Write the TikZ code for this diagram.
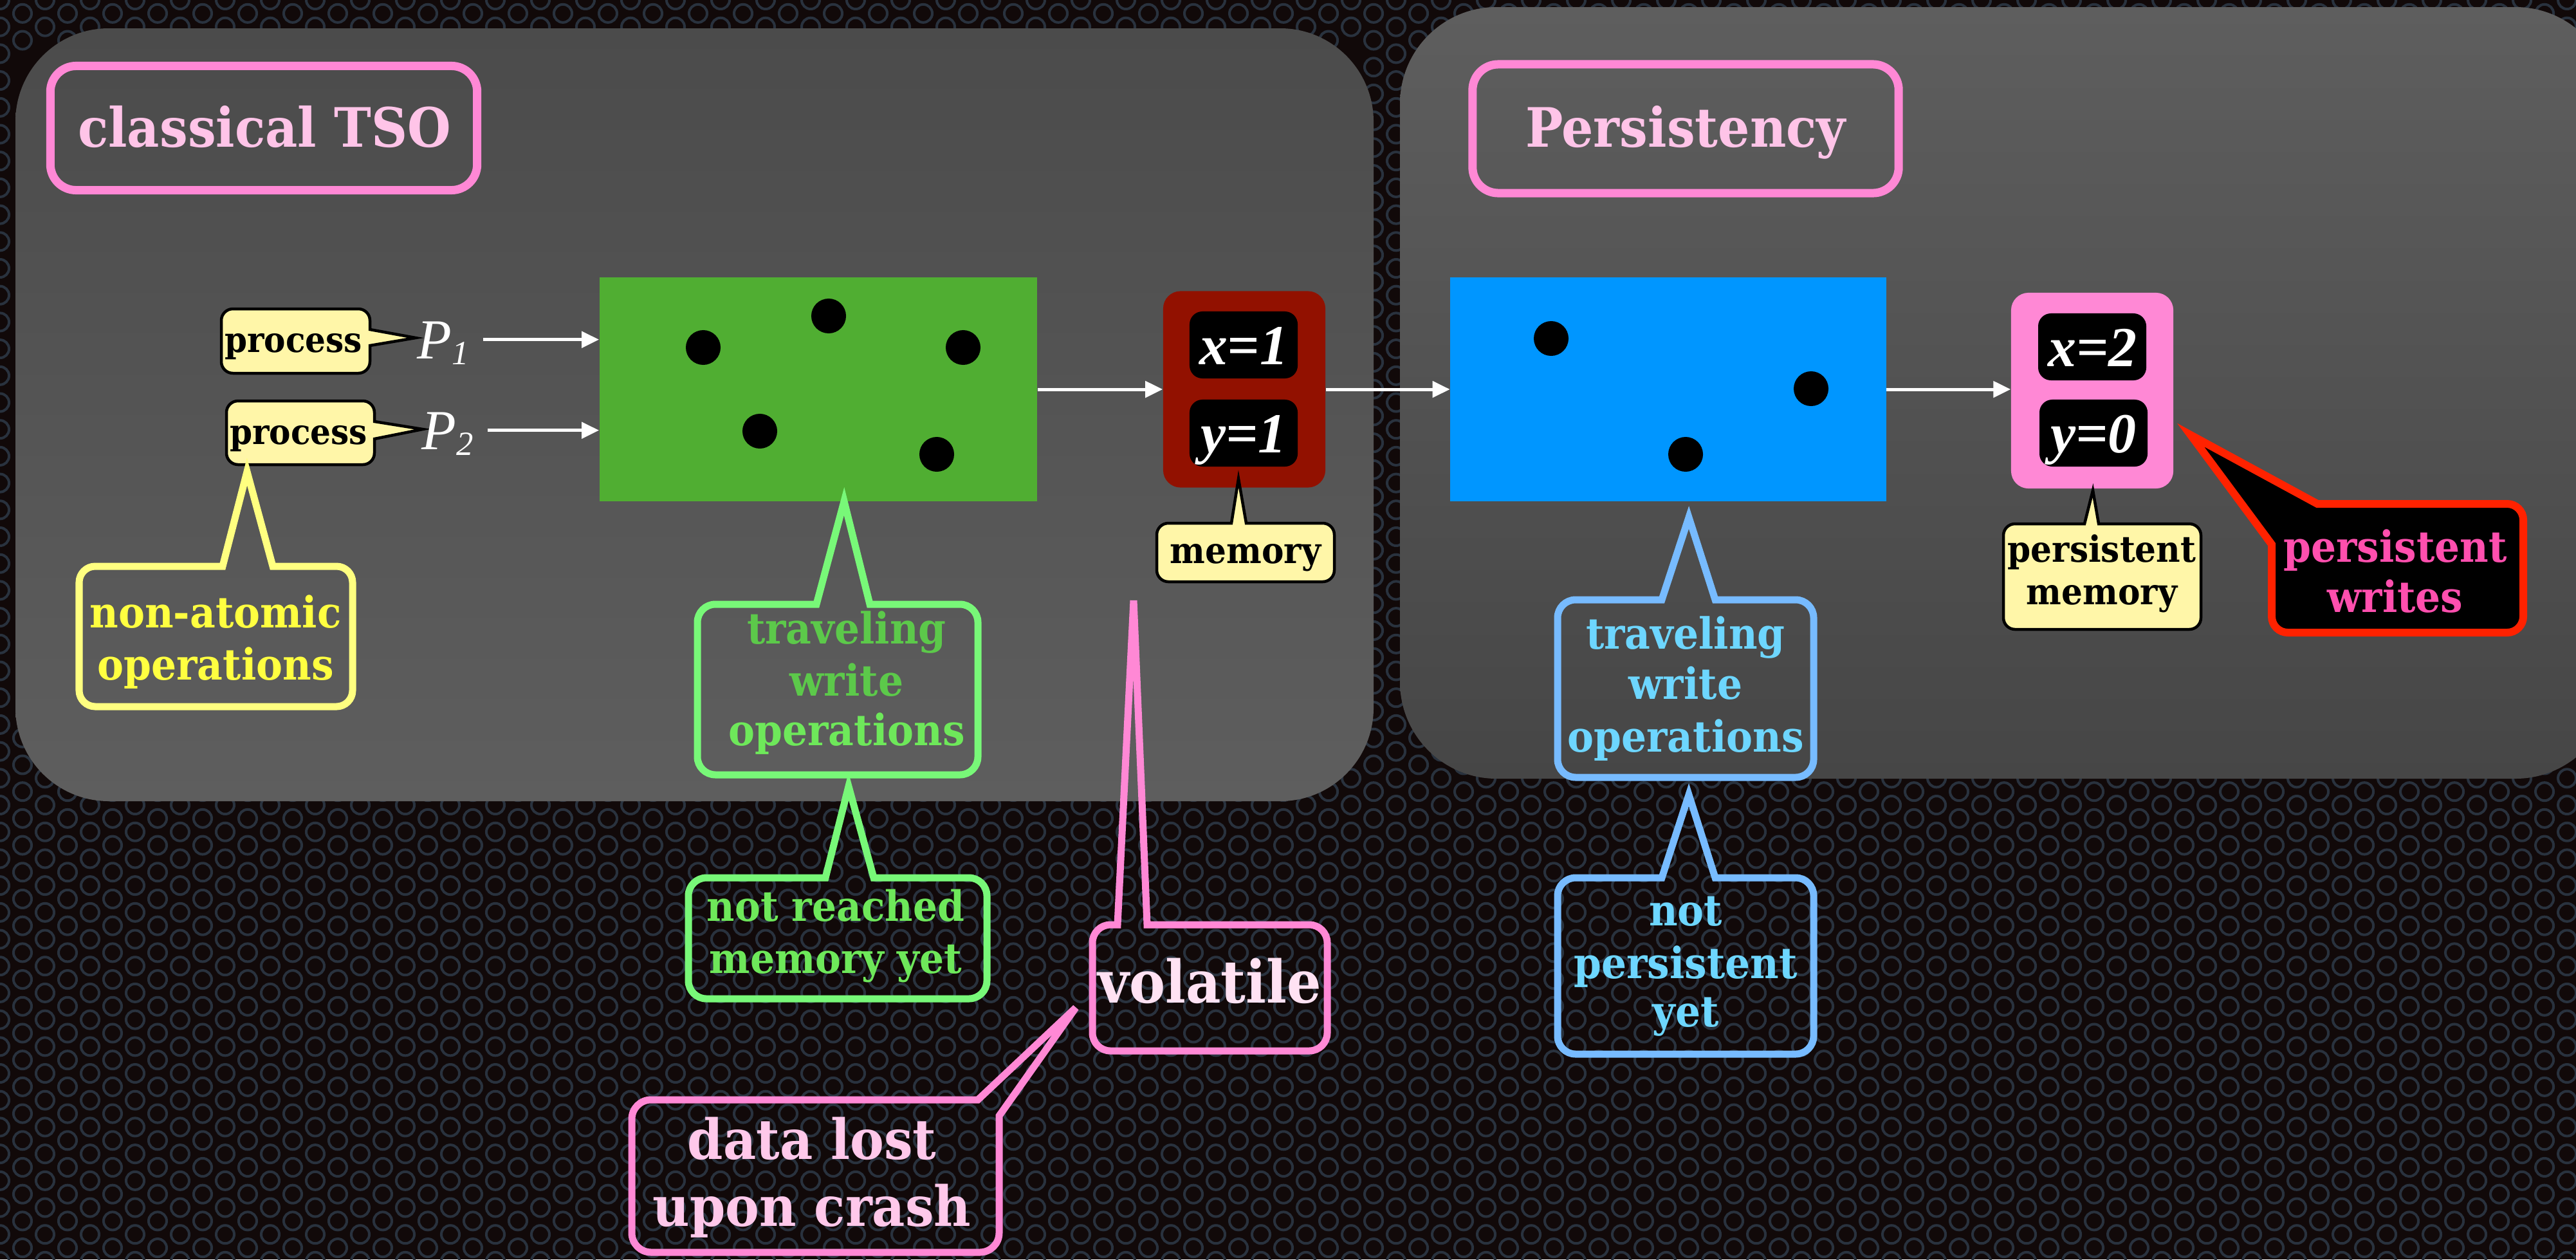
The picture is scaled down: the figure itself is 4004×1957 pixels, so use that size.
\documentclass[tikz,border=0pt]{standalone}
\usepackage{fontspec}
\usetikzlibrary{arrows.meta}
\newfontfamily\tw[FakeStretch=0.92]{DejaVu Serif}
\newfontfamily\mf{Liberation Serif}
\newcommand\fsz[1]{\fontsize{#1}{#1}\selectfont}
\definecolor{bgc}{HTML}{110909}
\definecolor{ringc}{HTML}{29323E}
\definecolor{pAtop}{HTML}{4B4B4B}
\definecolor{pAbot}{HTML}{5E5E5E}
\definecolor{pBtop}{HTML}{5E5E5E}
\definecolor{pBbot}{HTML}{464646}
\definecolor{pinkc}{HTML}{FF88D5}
\definecolor{titlec}{HTML}{FFC4E8}
\definecolor{procfill}{HTML}{FFF6A8}
\definecolor{yelc}{HTML}{FFFF80}
\definecolor{yeltext}{HTML}{FFFF40}
\definecolor{grbox}{HTML}{50AE32}
\definecolor{grline}{HTML}{78F878}
\definecolor{grtext}{HTML}{5CC94A}
\definecolor{grtextb}{HTML}{6EE85A}
\definecolor{memred}{HTML}{921100}
\definecolor{blbox}{HTML}{0096FF}
\definecolor{blline}{HTML}{77BBFF}
\definecolor{bltext}{HTML}{6DD6FF}
\definecolor{redc}{HTML}{FF2200}
\definecolor{wtext}{HTML}{FF4FAE}
\definecolor{voltext}{HTML}{FFE2F3}
\definecolor{losttext}{HTML}{FFC8EA}
\tikzset{
  lab/.style={inner sep=0pt, anchor=base, font={\tw\bfseries\fsz{#1}}},
  mth/.style={inner sep=0pt, text=white, font={\mf\itshape\fsz{25}}},
  arr/.style={draw=white, line width=0.05cm, -{Triangle[length=0.27cm,width=0.25cm]}},
  dot/.style={circle, fill=black, minimum size=0.54cm, inner sep=0pt},
  ring/.style={draw=ringc, line width=0.04cm},
  titlebox/.style={draw=pinkc, line width=0.13cm, rounded corners=0.4cm, inner sep=0pt},
  pbox/.style={draw=black, fill=procfill, line width=0.045cm},
  yco/.style={draw=yelc, line width=0.11cm},
  gco/.style={draw=grline, line width=0.11cm},
  pco/.style={draw=pinkc, line width=0.11cm},
  bco/.style={draw=blline, line width=0.11cm},
  wco/.style={draw=redc, fill=black, line width=0.12cm},
  val/.style={inner sep=0pt, text=white, font={\mf\bfseries\itshape\fsz{25}}, fill=black, rounded corners=0.2cm, minimum width=1.68cm, minimum height=1.04cm, text height=0.6cm, text depth=0pt},
}
\begin{document}
\begin{tikzpicture}[x=0.01cm,y=-0.01cm]
\clip (0,0) rectangle (4004,1957);
\fill[bgc] (0,0) rectangle (4004,1957);
% perforated background
\foreach \i in {0,...,115}{
  \pgfmathsetmacro\xx{\i*35}
  \pgfmathsetmacro\yo{mod(\i,2)*20.85}
  \foreach \j in {0,1,27,28,...,47}{
    \draw[ring] (\xx,\j*41.7+\yo) circle[radius=0.14cm];
  }
}
\foreach \i in {0,61,62}{
  \pgfmathsetmacro\xx{\i*35}
  \pgfmathsetmacro\yo{mod(\i,2)*20.85}
  \foreach \j in {2,...,26}{
    \draw[ring] (\xx,\j*41.7+\yo) circle[radius=0.14cm];
  }
}
% panels
\shade[top color=pAtop, bottom color=pAbot, rounded corners=1.45cm] (24,44) rectangle (2135,1245);
\shade[top color=pBtop, bottom color=pBbot, rounded corners=1.5cm] (2176,11) rectangle (4060,1210);

% titles
\node[titlebox, minimum width=6.63cm, minimum height=1.93cm] (tb1) at (410,199) {};
\node[lab=24, text=titlec] (tt1) at (411,228) {classical TSO};
\node[titlebox, minimum width=6.62cm, minimum height=2.0cm] (tb2) at (2620,200) {};
\node[lab=24, text=titlec] (tt2) at (2620,228) {Persistency};

% process callouts
\draw[pbox] (344,530) [rounded corners=0.18cm] -- (344,480) -- (575,480) [sharp corners] -- (575,512) -- (646,525) -- (575,537) [rounded corners=0.18cm] -- (575,580) -- (344,580) -- cycle;
\node[lab=15.5] (pr1) at (456,547) {process};
\draw[pbox] (352,672) [rounded corners=0.18cm] -- (352,623) -- (582,623) [sharp corners] -- (582,655) -- (657,667) -- (582,682) [rounded corners=0.18cm] -- (582,722) -- (352,722) -- cycle;
\node[lab=15.5] (pr2) at (464,690) {process};

% processes
\node[mth, anchor=base west] (P1) at (648,557) {P\raisebox{-0.09cm}{\fsz{15}1}};
\node[mth, anchor=base west] (P2) at (655,698) {P\raisebox{-0.09cm}{\fsz{15}2}};

% non-atomic callout
\draw[yco] (123,990) [rounded corners=0.25cm] -- (123,880) [sharp corners] -- (346,880) -- (384,733) -- (424,880) [rounded corners=0.25cm] -- (548,880) -- (548,1098) -- (123,1098) -- cycle;
\node[lab=19, text=yeltext] (na1) at (335,975) {non-atomic};
\node[lab=19, text=yeltext] (na2) at (335,1056) {operations};

% store buffer (TSO)
\node[fill=grbox, minimum width=6.8cm, minimum height=3.48cm, inner sep=0pt] (buf1) at (1272,605) {};
\node[dot] (g1) at (1093,540) {};
\node[dot] (g2) at (1288,491) {};
\node[dot] (g3) at (1497,540) {};
\node[dot] (g4) at (1181,670) {};
\node[dot] (g5) at (1456,706) {};

% volatile memory
\node[fill=memred, rounded corners=0.27cm, minimum width=2.52cm, minimum height=3.05cm, inner sep=0pt] (mem) at (1934,605) {};
\node[val] (vx1) at (1933,536) {x=1};
\node[val] (vy1) at (1933,673) {y=1};
\draw[pbox] (1798,860) [rounded corners=0.18cm] -- (1798,813) [sharp corners] -- (1914,813) -- (1925,744) -- (1937,813) [rounded corners=0.18cm] -- (2074,813) -- (2074,904) -- (1798,904) -- cycle;
\node[lab=16] (memlab) at (1936,875) {memory};

% persistence buffer
\node[fill=blbox, minimum width=6.77cm, minimum height=3.48cm, inner sep=0pt] (buf2) at (2593,605) {};
\node[dot] (b1) at (2411,526) {};
\node[dot] (b2) at (2815,604) {};
\node[dot] (b3) at (2620,706) {};

% persistent memory
\node[fill=pinkc, rounded corners=0.27cm, minimum width=2.52cm, minimum height=3.04cm, inner sep=0pt] (pmem) at (3252,607) {};
\node[val] (vx2) at (3252,539) {x=2};
\node[val] (vy2) at (3254,673) {y=0};
\draw[pbox] (3114,900) [rounded corners=0.18cm] -- (3114,814) [sharp corners] -- (3240,814) -- (3253,762) -- (3262,814) [rounded corners=0.18cm] -- (3421,814) -- (3421,978) -- (3114,978) -- cycle;
\node[lab=16] (pm1) at (3267,873) {persistent};
\node[lab=16] (pm2) at (3267,939) {memory};

% persistent writes callout
\draw[wco] (3531,920) [sharp corners] -- (3531,846) -- (3405,676) -- (3602,783) [rounded corners=0.25cm] -- (3922,783) -- (3922,983) -- (3531,983) -- cycle;
\node[lab=19, text=wtext] (pw1) at (3723,873) {persistent};
\node[lab=19, text=wtext] (pw2) at (3723,951) {writes};

% arrows
\coordinate (a1) at ([xshift=0.21cm,yshift=0.05cm]P1.east);
\coordinate (a2) at ([xshift=0.21cm,yshift=0.05cm]P2.east);
\draw[arr] (a1) -- (a1 -| buf1.west);
\draw[arr] (a2) -- (a2 -| buf1.west);
\draw[arr] (buf1.east) -- (mem.west);
\draw[arr] (mem.east) -- (buf2.west);
\draw[arr] (buf2.east) -- (buf2.east -| pmem.west);

% green callouts
\draw[gco] (1084,1050) [rounded corners=0.28cm] -- (1084,939) [sharp corners] -- (1269,939) -- (1312,779) -- (1352,939) [rounded corners=0.28cm] -- (1520,939) -- (1520,1204) -- (1084,1204) -- cycle;
\node[lab=19, text=grtext] (gt1) at (1316,1000) {traveling};
\node[lab=19, text=grtext] (gt2) at (1316,1081) {write};
\node[lab=19, text=grtextb] (gt3) at (1316,1158) {operations};
\draw[gco] (1070,1450) [rounded corners=0.28cm] -- (1070,1364) [sharp corners] -- (1283,1364) -- (1319,1222) -- (1358,1364) [rounded corners=0.28cm] -- (1534,1364) -- (1534,1552) -- (1070,1552) -- cycle;
\node[lab=18.5, text=grtextb] (nr1) at (1299,1431) {not reached};
\node[lab=18.5, text=grtextb] (nr2) at (1299,1512) {memory yet};

% volatile callouts
\draw[pco] (1698,1530) [rounded corners=0.28cm] -- (1698,1437) [sharp corners] -- (1737,1437) -- (1762,933) -- (1783,1437) [rounded corners=0.28cm] -- (2063,1437) -- (2063,1633) -- (1698,1633) -- cycle;
\node[lab=26, text=voltext] (vol) at (1880,1558) {volatile};
\draw[pco] (982,1830) [rounded corners=0.3cm] -- (982,1709) [sharp corners] -- (1520,1709) -- (1672,1566) -- (1553,1734) [rounded corners=0.3cm] -- (1553,1946) -- (982,1946) -- cycle;
\node[lab=24.5, text=losttext] (dl1) at (1262,1801) {data lost};
\node[lab=24.5, text=losttext] (dl2) at (1262,1905) {upon crash};

% blue callouts
\draw[bco] (2421,1050) [rounded corners=0.28cm] -- (2421,932) [sharp corners] -- (2583,932) -- (2625,804) -- (2666,932) [rounded corners=0.28cm] -- (2819,932) -- (2819,1208) -- (2421,1208) -- cycle;
\node[lab=19, text=bltext] (bt1) at (2620,1008) {traveling};
\node[lab=19, text=bltext] (bt2) at (2620,1086) {write};
\node[lab=19, text=bltext] (bt3) at (2620,1168) {operations};
\draw[bco] (2421,1500) [rounded corners=0.28cm] -- (2421,1364) [sharp corners] -- (2583,1364) -- (2625,1235) -- (2666,1364) [rounded corners=0.28cm] -- (2819,1364) -- (2819,1638) -- (2421,1638) -- cycle;
\node[lab=19, text=bltext] (np1) at (2620,1438) {not};
\node[lab=19, text=bltext] (np2) at (2620,1520) {persistent};
\node[lab=19, text=bltext] (np3) at (2620,1595) {yet};
\end{tikzpicture}
\end{document}
